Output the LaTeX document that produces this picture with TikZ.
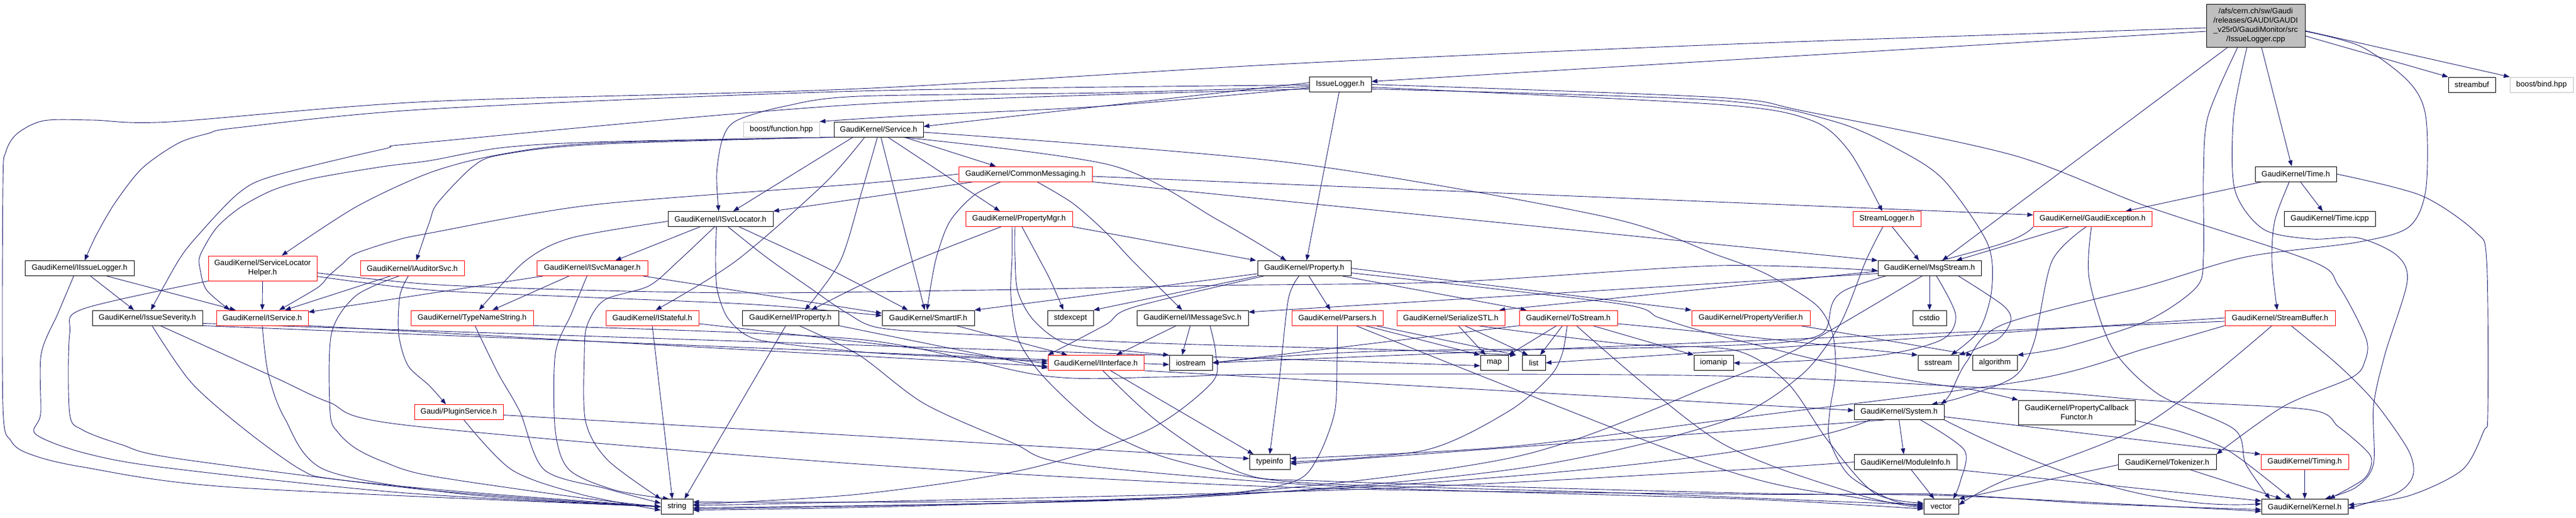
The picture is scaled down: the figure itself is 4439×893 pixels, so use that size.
\documentclass[tikz,border=0pt]{standalone}
\usepackage{fontspec}
\setmainfont{Liberation Sans}
\usetikzlibrary{arrows.meta}
\definecolor{navyc}{HTML}{191970}
\definecolor{boxgray}{HTML}{BFBFBF}
\newcommand\gfont{\fontsize{13.3}{16}\selectfont}
\pgfdeclarelayer{bglayer}
\pgfdeclarelayer{edgelayer}
\pgfsetlayers{bglayer,edgelayer,main}
\tikzset{
  nb/.style={draw=black, line width=0.9pt, minimum height=26pt, inner sep=0pt, font=\gfont, align=center, fill=white},
  nr/.style={nb, draw=red},
  ng/.style={nb, draw=boxgray},
  e/.style={draw=navyc, line width=0.9pt, -{Triangle[length=10pt,width=7.5pt]}},
}
\begin{document}
\begin{tikzpicture}[x=1pt,y=1pt]
\useasboundingbox (0,0) rectangle (4439,-893);
\begin{pgfonlayer}{bglayer}
\fill[white] (0,0) rectangle (4439,-893);
\end{pgfonlayer}
% ---------------- nodes ----------------
\node[nb, fill=boxgray, minimum width=170pt, minimum height=74pt] (root) at (3887,-44) {/afs/cern.ch/sw/Gaudi\\/releases/GAUDI/GAUDI\\\_v25r0/GaudiMonitor/src\\/IssueLogger.cpp};
\node[nb, minimum width=107pt] (IssueLogger) at (2309.5,-145.5) {IssueLogger.h};
\node[nb, minimum width=81pt] (streambuf) at (4259.5,-146) {streambuf};
\node[ng, minimum width=109pt] (bindhpp) at (4379.5,-146) {boost/bind.hpp};
\node[nb, minimum width=140pt] (Time) at (3956,-300) {GaudiKernel/Time.h};
\node[nb, minimum width=157pt] (Timeicpp) at (4014.5,-377.5) {GaudiKernel/Time.icpp};
\node[ng, minimum width=131pt] (fnhpp) at (1346.5,-223) {boost/function.hpp};
\node[nb, minimum width=154pt] (Service) at (1514,-223) {GaudiKernel/Service.h};
\node[nb, minimum width=181pt] (ISvcLocator) at (1241.5,-377.5) {GaudiKernel/ISvcLocator.h};
\node[nr, minimum width=230pt] (CM) at (1767,-300) {GaudiKernel/CommonMessaging.h};
\node[nr, minimum width=184pt] (PM) at (1756,-377.5) {GaudiKernel/PropertyMgr.h};
\node[nr, minimum width=117pt] (StreamLogger) at (3251.5,-377.5) {StreamLogger.h};
\node[nr, minimum width=204pt] (GE) at (3606,-377.5) {GaudiKernel/GaudiException.h};
\node[nb, minimum width=178pt] (MsgStream) at (3325,-462.5) {GaudiKernel/MsgStream.h};
\node[nb, minimum width=188pt] (IIssueLogger) at (137,-462.5) {GaudiKernel/IIssueLogger.h};
\node[nr, minimum width=187pt, minimum height=43pt] (SLH) at (452.5,-462.5) {GaudiKernel/ServiceLocator\\Helper.h};
\node[nr, minimum width=179pt] (IAuditorSvc) at (710.5,-462.5) {GaudiKernel/IAuditorSvc.h};
\node[nr, minimum width=191pt] (ISvcManager) at (1020.5,-462.5) {GaudiKernel/ISvcManager.h};
\node[nb, minimum width=161pt] (Property) at (2247.5,-462.5) {GaudiKernel/Property.h};
\node[nb, minimum width=190pt] (IssueSeverity) at (254,-548) {GaudiKernel/IssueSeverity.h};
\node[nr, minimum width=158pt] (IService) at (452,-548) {GaudiKernel/IService.h};
\node[nr, minimum width=211pt] (TNS) at (813.5,-548) {GaudiKernel/TypeNameString.h};
\node[nr, minimum width=160pt] (IStateful) at (1124,-548) {GaudiKernel/IStateful.h};
\node[nb, minimum width=166pt] (IProperty) at (1362,-548) {GaudiKernel/IProperty.h};
\node[nb, minimum width=159pt] (SmartIF) at (1599.5,-548) {GaudiKernel/SmartIF.h};
\node[nb, minimum width=79pt] (stdexcept) at (1844.5,-548) {stdexcept};
\node[nb, minimum width=192pt] (IMS) at (2055,-548) {GaudiKernel/IMessageSvc.h};
\node[nr, minimum width=157pt] (Parsers) at (2304.5,-548) {GaudiKernel/Parsers.h};
\node[nr, minimum width=186pt] (SSTL) at (2500,-548) {GaudiKernel/SerializeSTL.h};
\node[nr, minimum width=169pt] (ToStream) at (2702.5,-548) {GaudiKernel/ToStream.h};
\node[nr, minimum width=204pt] (PV) at (3017,-548) {GaudiKernel/PropertyVerifier.h};
\node[nb, minimum width=58pt] (cstdio) at (3325,-548) {cstdio};
\node[nr, minimum width=190pt] (SB) at (3929,-548) {GaudiKernel/StreamBuffer.h};
\node[nr, minimum width=165pt] (IInterface) at (1888.5,-625.5) {GaudiKernel/IInterface.h};
\node[nb, minimum width=74pt] (iostream) at (2052,-625.5) {iostream};
\node[nb, minimum width=48pt] (map) at (2575,-625.5) {map};
\node[nb, minimum width=40pt] (list) at (2643,-625.5) {list};
\node[nb, minimum width=68pt] (iomanip) at (2953,-625.5) {iomanip};
\node[nb, minimum width=70pt] (sstream) at (3340,-625.5) {sstream};
\node[nb, minimum width=77pt] (algorithm) at (3437.5,-625.5) {algorithm};
\node[nr, minimum width=153pt] (PS) at (790.5,-710.5) {Gaudi/PluginService.h};
\node[nb, minimum width=155pt] (System) at (3272.5,-710.5) {GaudiKernel/System.h};
\node[nb, minimum width=201pt, minimum height=42pt] (PCF) at (3578.5,-711) {GaudiKernel/PropertyCallback\\Functor.h};
\node[nb, minimum width=70pt] (typeinfo) at (2188,-796.5) {typeinfo};
\node[nb, minimum width=177pt] (ModuleInfo) at (3283.5,-796.5) {GaudiKernel/ModuleInfo.h};
\node[nb, minimum width=169pt] (Tokenizer) at (3734.5,-796.5) {GaudiKernel/Tokenizer.h};
\node[nr, minimum width=151pt] (Timing) at (3971.5,-796.5) {GaudiKernel/Timing.h};
\node[nb, minimum width=55pt] (string) at (1166.5,-873.5) {string};
\node[nb, minimum width=60pt] (vector) at (3345,-873.5) {vector};
\node[nb, minimum width=149pt] (Kernel) at (3971.5,-873.5) {GaudiKernel/Kernel.h};
% ---------------- edges ----------------
\begin{pgfonlayer}{edgelayer}
% root
\draw[e] ([yshift=-10pt]root.west) -- ([yshift=5pt]IssueLogger.east);
\draw[e] plot[smooth] coordinates {([yshift=-4pt]root.west) (2960,-77) (2220,-110) (1480,-153) (740,-175) (293,-210) (160,-207) (76,-208) (30,-230) (10,-262) (5,-320) (5,-700) (19,-760) (52,-783) (142,-805) (400,-840) (string.west)};
\draw[e] ([xshift=-48pt]root.south) -- ([xshift=22pt]MsgStream.north);
\draw[e] ([xshift=10pt]root.south) -- ([xshift=-7pt]Time.north);
\draw[e] ([yshift=-18pt]root.east) -- (streambuf.north west);
\draw[e] ([yshift=-9pt]root.east) -- (bindhpp.north west);
\draw[e] plot[smooth] coordinates {([xshift=-31pt]root.south) (3805,-200) (3797,-300) (3797,-440) (3785,-495) (3700,-553) (3560,-598) (algorithm.north east)};
\draw[e] plot[smooth] coordinates {([yshift=-10pt]root.east) (4068,-80) (4150,-140) (4180,-200) (4180,-328) (4150,-392) (4060,-418) (3870,-443) (3700,-493) (3450,-560) (3388,-625) (3360,-680) ([xshift=72pt]System.north)};
\draw[e] plot[smooth] coordinates {([xshift=-15pt]root.south) (3849,-200) (3851,-327) (3900,-395) (3983,-412) (4063,-410) (4130,-440) (4148,-486) (4110,-610) (4090,-700) (4090,-800) (4060,-840) ([xshift=35pt]Kernel.north)};
% IssueLogger.h
\draw[e] ([yshift=3pt]IssueLogger.west) -- ([yshift=5pt]Service.east);
\draw[e] plot[smooth] coordinates {([yshift=-6pt]IssueLogger.west) (1900,-183) (1560,-200) (fnhpp.north east)};
\draw[e] plot[smooth] coordinates {([yshift=-1pt]IssueLogger.west) (1480,-157) (740,-188) (410,-220) (359,-230) (307,-247) (245,-290) (198,-350) (165,-407) ([xshift=9pt]IIssueLogger.north)};
\draw[e] plot[smooth] coordinates {([yshift=-4pt]IssueLogger.west) (1900,-160) (1480,-166) (1353,-183) (1269,-208) (1245,-240) (1235,-300) ([xshift=-3pt]ISvcLocator.north)};
\draw[e] plot[smooth] coordinates {([yshift=-8pt]IssueLogger.west) (1480,-180) (740,-245) (661,-257) (472,-303) (411,-333) (340,-407) (307,-450) ([xshift=6pt]IssueSeverity.north)};
\draw[e] ([xshift=-2pt]IssueLogger.south) -- ([xshift=4pt]Property.north);
\draw[e] plot[smooth] coordinates {([yshift=-5pt]IssueLogger.east) (2960,-180) (3120,-207) (3186,-260) ([xshift=-8pt]StreamLogger.north)};
\draw[e] plot[smooth] coordinates {([yshift=-8pt]IssueLogger.east) (2960,-173) (3163,-210) (3281,-263) (3352,-313) (3425,-420) (3432,-500) (3410,-570) ([xshift=22pt]sstream.north)};
\draw[e] plot[smooth] coordinates {(IssueLogger.east) (2960,-168) (3111,-192) (3467,-267) (3700,-356) (3983,-450) (4030,-493) (4077,-583) (4075,-623) (4052,-651) (3936,-700) (Tokenizer.north east)};
% Service.h
\draw[e] ([xshift=44pt]Service.south) -- ([xshift=-51pt]CM.north);
\draw[e] ([xshift=16pt]Service.south) -- ([xshift=-33pt]PM.north);
\draw[e] plot[smooth] coordinates {([xshift=40pt]Service.south) (1915,-285) (2100,-380) ([xshift=-31pt]Property.north)};
\draw[e] ([xshift=-44pt]Service.south) -- ([xshift=22pt]ISvcLocator.north);
\draw[e] plot[smooth] coordinates {([xshift=-24pt]Service.south) (1420,-317) (1268,-450) ([xshift=6pt]IStateful.north)};
\draw[e] plot[smooth] coordinates {([xshift=-2pt]Service.south) (1485,-330) (1448,-450) ([xshift=25pt]IProperty.north)};
\draw[e] ([xshift=4pt]Service.south) -- ([xshift=-6pt]SmartIF.north);
\draw[e] plot[smooth] coordinates {([yshift=-5pt]Service.east) (2220,-280) (2763,-373) (2960,-440) (3045,-473) (3130,-526) (3158,-576) (3163,-643) (3153,-710) (3153,-760) (3187,-820) (3260,-862) (vector.west)};
\draw[e] plot[smooth] coordinates {(Service.south west) (1023,-245) (862,-255) (740,-277) (661,-287) (543,-307) (472,-327) (415,-357) (373,-393) (345,-440) (345,-465) (356,-500) ([xshift=-56pt]IService.north)};
\draw[e] plot[smooth] coordinates {(Service.south west) (1023,-247) (858,-267) (740,-298) (613,-357) ([xshift=33pt]SLH.north)};
\draw[e] plot[smooth] coordinates {(Service.south west) (1023,-249) (863,-267) (815,-287) (754,-350) (740,-383) ([xshift=7pt]IAuditorSvc.north)};
% CommonMessaging.h
\draw[e] plot[smooth] coordinates {(CM.west) (1480,-317) (1023,-353) (740,-402) (680,-415) (613,-437) (590,-455) (566,-476) (547,-496) ([xshift=29pt]IService.north)};
\draw[e] ([xshift=-89pt]CM.south) -- (ISvcLocator.north east);
\draw[e] ([yshift=-4pt]CM.east) -- ([yshift=7pt]GE.west);
\draw[e] (CM.south east) -- (MsgStream.north west);
\draw[e] plot[smooth] coordinates {([xshift=-42pt]CM.south) (1678,-337) (1636,-383) (1612,-450) ([xshift=-2pt]SmartIF.north)};
\draw[e] plot[smooth] coordinates {([xshift=20pt]CM.south) (1848,-350) (1905,-400) (1952,-450) ([xshift=-18pt]IMS.north)};
% PropertyMgr.h
\draw[e] (PM.south east) -- ([xshift=-83pt]Property.north);
\draw[e] plot[smooth] coordinates {([xshift=-31pt]PM.south) (1574,-450) (1480,-493) ([xshift=36pt]IProperty.north)};
\draw[e] plot[smooth] coordinates {([xshift=5pt]PM.south) (1789,-443) (1810,-483) ([xshift=-12pt]stdexcept.north)};
\draw[e] plot[smooth] coordinates {([xshift=-7pt]PM.south) (1749,-443) (1754,-503) (1782,-553) (1839,-593) (1952,-606) (iostream.north west)};
\draw[e] plot[smooth] coordinates {([xshift=-12pt]PM.south) (1744,-443) (1742,-510) (1754,-583) (1790,-640) (1850,-700) (1905,-743) (2000,-786) (2141,-820) (2300,-835) (2800,-850) (3200,-866) ([yshift=4pt]vector.west)};
% ISvcLocator.h
\draw[e] ([xshift=-35pt]ISvcLocator.south) -- ([xshift=40pt]ISvcManager.north);
\draw[e] plot[smooth] coordinates {([yshift=-4pt]ISvcLocator.west) (985,-410) (905,-450) ([xshift=12pt]TNS.north)};
\draw[e] plot[smooth] coordinates {([xshift=-10pt]ISvcLocator.south) (1169,-450) (1118,-493) (1042,-517) (1012,-560) (1007,-610) (1009,-726) (1047,-793) (string.north west)};
\draw[e] plot[smooth] coordinates {([xshift=-7pt]ISvcLocator.south) (1233,-450) (1236,-500) (1252,-545) (1283,-576) (1330,-590) (1500,-608) (1700,-618) ([yshift=3pt]IInterface.west)};
\draw[e] plot[smooth] coordinates {([xshift=13pt]ISvcLocator.south) (1320,-443) (1391,-493) (1460,-540) (1520,-566) (1700,-578) (2000,-592) (2400,-603) ([xshift=-10pt]list.north west)};
\draw[e] plot[smooth] coordinates {([xshift=32pt]ISvcLocator.south) (1401,-450) (1480,-490) ([xshift=-35pt]SmartIF.north)};
% ISvcManager.h
\draw[e] ([xshift=-85pt]ISvcManager.south) -- ([yshift=10pt]IService.east);
\draw[e] ([xshift=-40pt]ISvcManager.south) -- ([xshift=35pt]TNS.north);
\draw[e] plot[smooth] coordinates {([xshift=-9pt]ISvcManager.south) (985,-540) (957,-610) (957,-743) (981,-810) (1060,-845) ([xshift=-14pt]string.north)};
\draw[e] ([xshift=88pt]ISvcManager.south) -- ([yshift=8pt]SmartIF.west);
% IIssueLogger.h
\draw[e] ([xshift=19pt]IIssueLogger.south) -- ([xshift=-23pt]IssueSeverity.north);
\draw[e] ([xshift=47pt]IIssueLogger.south) -- ([xshift=-46pt]IService.north);
\draw[e] plot[smooth] coordinates {([xshift=-10pt]IIssueLogger.south) (100,-540) (71,-610) (70,-713) (61,-748) (142,-780) (283,-806) (700,-850) (string.west)};
% IssueSeverity.h
\draw[e] plot[smooth] coordinates {([xshift=8pt]IssueSeverity.south) (330,-660) (425,-743) (519,-810) (576,-826) (800,-848) (string.west)};
\draw[e] plot[smooth] coordinates {([xshift=22pt]IssueSeverity.south) (472,-650) (566,-693) (700,-733) (1480,-800) (2220,-840) (3000,-852) (3340,-852) (3600,-868) ([yshift=-5pt]Kernel.west)};
\draw[e] (IssueSeverity.south east) -- ([yshift=-3pt]iostream.west);
\draw[e] ([yshift=4pt]IssueSeverity.south east) -- ([yshift=-5pt]map.west);
% ServiceLocatorHelper.h
\draw[e] (SLH.south) -- (IService.north);
\draw[e] plot[smooth] coordinates {(SLH.south west) (142,-533) (120,-576) (120,-713) (142,-741) (208,-766) (302,-790) (740,-845) (string.west)};
\draw[e] plot[smooth] coordinates {([yshift=-8pt]SLH.east) (740,-490) (1000,-500) (1300,-505) (1700,-500) (2100,-492) (2500,-486) (2960,-458) ([yshift=-4pt]MsgStream.west)};
\draw[e] plot[smooth] coordinates {([yshift=-14pt]SLH.east) (740,-500) (1000,-512) (1300,-525) ([yshift=4pt]SmartIF.west)};
% IAuditorSvc.h
\draw[e] ([xshift=-38pt]IAuditorSvc.south) -- ([xshift=39pt]IService.north);
\draw[e] plot[smooth] coordinates {([xshift=-23pt]IAuditorSvc.south) (613,-510) (571,-576) (569,-713) (583,-746) (613,-773) (661,-796) (740,-820) (1000,-858) (string.west)};
\draw[e] plot[smooth] coordinates {([xshift=-7pt]IAuditorSvc.south) (689,-510) (687,-576) (703,-630) (740,-665) ([xshift=-22pt]PS.north)};
% IService.h
\draw[e] plot[smooth] coordinates {(IService.south) (462,-643) (490,-720) (560,-810) (800,-852) (string.west)};
\draw[e] (IService.south east) -- ([yshift=-6pt]IInterface.west);
% TypeNameString.h
\draw[e] plot[smooth] coordinates {([xshift=5pt]TNS.south) (858,-643) (896,-710) (938,-810) (1047,-843) ([yshift=6pt]string.west)};
\draw[e] plot[smooth] coordinates {(TNS.south east) (1480,-585) (1800,-648) (2000,-650) (2220,-645) (2960,-648) (3479,-672) (3700,-690) (3978,-706) (4030,-736) (4077,-776) (4087,-796) (4073,-826) ([xshift=42pt]Kernel.north)};
% PluginService.h
\draw[e] plot[smooth] coordinates {([xshift=9pt]PS.south) (882,-810) (1000,-852) ([yshift=-6pt]string.west)};
\draw[e] ([yshift=-5pt]PS.east) -- ([yshift=6pt]typeinfo.west);
% IStateful.h
\draw[e] (IStateful.south) -- ([xshift=-8pt]string.north);
\draw[e] ([yshift=-10pt]IStateful.east) -- ([yshift=-1pt]IInterface.west);
% IProperty.h
\draw[e] ([xshift=-8pt]IProperty.south) -- ([xshift=13pt]string.north);
\draw[e] (IProperty.south east) -- ([yshift=-9pt]IInterface.west);
\draw[e] plot[smooth] coordinates {([xshift=15pt]IProperty.south) (1480,-612) (1593,-696) (1744,-763) (1848,-800) (2300,-838) (3000,-860) ([yshift=-4pt]vector.west)};
% SmartIF.h
\draw[e] ([xshift=48pt]SmartIF.south) -- ([xshift=-49pt]IInterface.north);
% IMessageSvc.h
\draw[e] ([xshift=-28pt]IMS.south) -- ([xshift=35pt]IInterface.north);
\draw[e] ([xshift=-4pt]IMS.south) -- ([xshift=-15pt]iostream.north);
\draw[e] plot[smooth] coordinates {([xshift=30pt]IMS.south) (2095,-610) (2088,-660) (1975,-743) (1763,-810) (1480,-852) ([yshift=4pt]string.east)};
% IInterface.h
\draw[e] ([xshift=25pt]IInterface.south) -- ([xshift=-28pt]typeinfo.north);
\draw[e] (IInterface.south east) -- ([yshift=3pt]System.west);
\draw[e] plot[smooth] coordinates {([xshift=12pt]IInterface.south) (1999,-730) (2141,-816) (2300,-830) (3000,-850) (3340,-854) (3600,-866) ([yshift=-8pt]Kernel.west)};
% Property.h
\draw[e] ([xshift=8pt]Property.south) -- ([xshift=-12pt]Parsers.north);
\draw[e] ([xshift=66pt]Property.south) -- ([xshift=-72pt]ToStream.north);
\draw[e] (Property.east) -- (PV.north west);
\draw[e] plot[smooth] coordinates {([yshift=-8pt]Property.east) (2786,-523) (2860,-548) (2960,-578) (3250,-648) (3400,-672) (PCF.north west)};
\draw[e] (Property.south west) -- (stdexcept.north east);
\draw[e] plot[smooth] coordinates {([xshift=-70pt]Property.south) (1952,-530) (1905,-560) (IInterface.north west)};
\draw[e] ([yshift=4pt]Property.south west) -- (SmartIF.north east);
\draw[e] plot[smooth] coordinates {([xshift=-9pt]Property.south) (2220,-516) (2205,-650) (typeinfo.north)};
% Parsers.h
\draw[e] ([xshift=48pt]Parsers.south) -- (map.north west);
\draw[e] ([xshift=66pt]Parsers.south) -- ([xshift=-10pt]list.north west);
\draw[e] plot[smooth] coordinates {(Parsers.south) (2304,-620) (2300,-710) (2270,-790) (2230,-830) (2100,-852) (1800,-866) ([yshift=-4pt]string.east)};
\draw[e] plot[smooth] coordinates {([xshift=32pt]Parsers.south) (2960,-806) (3200,-858) ([yshift=2pt]vector.west)};
% SerializeSTL.h
\draw[e] ([xshift=13pt]SSTL.south) -- ([xshift=-15pt]map.north);
\draw[e] ([xshift=24pt]SSTL.south) -- ([xshift=-10pt]list.north);
\draw[e] plot[smooth] coordinates {([xshift=46pt]SSTL.south) (2800,-593) (2990,-604) (3080,-660) (3150,-760) (3230,-850) ([yshift=6pt]vector.west)};
% ToStream.h
\draw[e] ([xshift=-20pt]ToStream.south) -- (map.north east);
\draw[e] ([xshift=-10pt]ToStream.south) -- ([xshift=11pt]list.north);
\draw[e] ([xshift=42pt]ToStream.south) -- (iomanip.north west);
\draw[e] plot[smooth] coordinates {([yshift=-10pt]ToStream.east) (2960,-575) (sstream.north west)};
\draw[e] (ToStream.south west) -- (iostream.east);
\draw[e] plot[smooth] coordinates {([xshift=-2pt]ToStream.south) (2692,-610) (2670,-650) (2598,-710) (2456,-776) (typeinfo.east)};
\draw[e] plot[smooth] coordinates {([xshift=14pt]ToStream.south) (2960,-760) (3200,-852) ([yshift=-2pt]vector.west)};
% PropertyVerifier.h
\draw[e] ([xshift=85pt]PV.south) -- (algorithm.north west);
% MsgStream.h
\draw[e] (MsgStream.south) -- (cstdio.north);
\draw[e] ([yshift=-5pt]MsgStream.west) -- ([xshift=-10pt]SSTL.north east);
\draw[e] ([yshift=-9pt]MsgStream.west) -- ([yshift=10pt]IMS.east);
\draw[e] plot[smooth] coordinates {([xshift=-13pt]MsgStream.south) (3100,-600) (2960,-660) (2600,-790) (2000,-858) ([yshift=8pt]string.east)};
\draw[e] plot[smooth] coordinates {([xshift=12pt]MsgStream.south) (3370,-543) (3347,-585) (3243,-612) (3050,-625) (iomanip.east)};
\draw[e] plot[smooth] coordinates {([xshift=50pt]MsgStream.south) (3451,-526) (3465,-553) (3441,-586) (sstream.north east)};
% GaudiException.h
\draw[e] ([xshift=-42pt]GE.south) -- ([xshift=46pt]MsgStream.north);
\draw[e] plot[smooth] coordinates {([xshift=-11pt]GE.south) (3536,-450) (3505,-590) (3470,-650) (3380,-685) ([xshift=56pt]System.north)};
\draw[e] plot[smooth] coordinates {(GE.south west) (3450,-420) (3180,-500) (3130,-580) (2900,-598) (2400,-605) (2200,-615) (iostream.east)};
\draw[e] plot[smooth] coordinates {([xshift=-2pt]GE.south) (3600,-480) (3640,-600) (3720,-680) (3850,-740) (3870,-800) ([xshift=-60pt]Kernel.north)};
% StreamLogger.h
\draw[e] ([xshift=9pt]StreamLogger.south) -- ([xshift=-18pt]MsgStream.north);
\draw[e] plot[smooth] coordinates {([xshift=-7pt]StreamLogger.south) (3215,-450) (3170,-560) (3100,-650) (2960,-730) (2600,-810) (2000,-860) ([yshift=-2pt]string.east)};
% Time.h
\draw[e] ([xshift=8pt]Time.south) -- ([xshift=-12pt]Timeicpp.north);
\draw[e] plot[smooth] coordinates {([xshift=-11pt]Time.south) (3920,-380) (3915,-450) ([xshift=-5pt]SB.north)};
\draw[e] ([xshift=-58pt]Time.south) -- ([xshift=57pt]GE.north);
\draw[e] plot[smooth] coordinates {(Time.east) (4172,-337) (4266,-400) (4285,-450) (4287,-710) (4280,-743) (4243,-810) (4150,-855) ([yshift=3pt]Kernel.east)};
% StreamBuffer.h
\draw[e] plot[smooth] coordinates {([xshift=19pt]SB.south) (4030,-630) (4092,-693) (4150,-776) (4158,-820) (4130,-850) ([yshift=-3pt]Kernel.east)};
\draw[e] (SB.west) -- (list.east);
\draw[e] ([yshift=-6pt]SB.west) -- (iostream.east);
\draw[e] plot[smooth] coordinates {(SB.south west) (3700,-600) (3500,-655) (3000,-720) (2600,-770) ([yshift=6pt]typeinfo.east)};
\draw[e] plot[smooth] coordinates {([xshift=-14pt]SB.south) (3700,-730) (3450,-830) ([yshift=3pt]vector.east)};
% System.h
\draw[e] (System.south) -- ([xshift=-3pt]ModuleInfo.north);
\draw[e] ([yshift=-8pt]System.east) -- (Timing.north west);
\draw[e] plot[smooth] coordinates {([xshift=37pt]System.south) (3385,-776) (3378,-830) ([xshift=21pt]vector.north)};
\draw[e] ([xshift=-25pt]System.south) -- ([yshift=-3pt]typeinfo.east);
\draw[e] (System.south east) .. controls (3500,-800) and (3700,-880) .. ([yshift=5pt]Kernel.west);
\draw[e] ([xshift=-50pt]System.south) .. controls (3000,-820) and (2000,-870) .. ([yshift=-6pt]string.east);
% ModuleInfo.h
\draw[e] ([xshift=10pt]ModuleInfo.south) -- ([xshift=-12pt]vector.north);
\draw[e] (ModuleInfo.south east) -- ([yshift=10pt]Kernel.west);
\draw[e] plot[smooth] coordinates {(ModuleInfo.west) (2960,-812) (2300,-845) ([yshift=2pt]string.east)};
% Tokenizer.h
\draw[e] ([xshift=40pt]Tokenizer.south) -- ([xshift=-40pt]Kernel.north);
\draw[e] ([yshift=-5pt]Tokenizer.west) -- (vector.north east);
% Timing.h
\draw[e] (Timing.south) -- (Kernel.north);
% PropertyCallbackFunctor.h
\draw[e] plot[smooth] coordinates {([yshift=-14pt]PCF.east) (3760,-745) (3842,-778) ([xshift=-23pt]Kernel.north)};
\end{pgfonlayer}
\end{tikzpicture}
\end{document}
